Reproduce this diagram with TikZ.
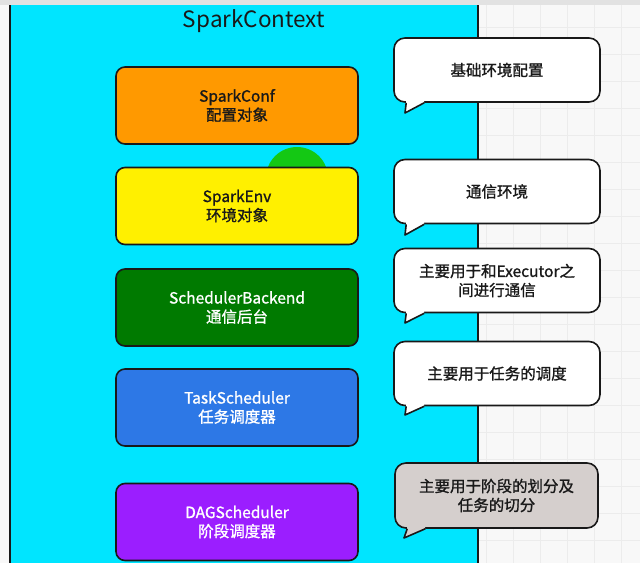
\documentclass[tikz,border=0pt]{standalone}
\usepackage{fontspec}
\newfontfamily\cjk{Noto Sans CJK SC}
\newfontfamily\cjkm[FakeBold=1.2]{Noto Sans CJK SC}
\definecolor{ctxcyan}{RGB}{0,229,255}
\definecolor{confcol}{RGB}{255,153,0}
\definecolor{envcol}{RGB}{255,240,0}
\definecolor{backcol}{RGB}{0,122,0}
\definecolor{taskcol}{RGB}{45,120,230}
\definecolor{dagcol}{RGB}{155,30,255}
\definecolor{notegray}{RGB}{213,207,205}
\definecolor{clickgreen}{RGB}{20,200,20}
\definecolor{pagegray}{RGB}{248,248,248}
\definecolor{gridgray}{RGB}{236,236,236}
\definecolor{bargray}{RGB}{226,226,226}
\definecolor{inkcol}{RGB}{25,25,25}
\begin{document}
\begin{tikzpicture}[x=1pt,y=-1pt]
        \tikzstyle{box}=[draw=inkcol, rounded corners=9pt, line width=1.6pt,
            minimum width=242pt, minimum height=77pt, align=center,
            font=\cjkm\fontsize{15.5}{19}\selectfont]
        \tikzstyle{bubble}=[draw=inkcol, fill=white, rounded corners=11pt,
            line width=1.6pt, minimum width=206pt, minimum height=64pt,
            align=center, text=inkcol, font=\cjkm\fontsize{15.5}{19}\selectfont]
        \tikzstyle{tail}=[draw=inkcol, line width=1.6pt, line join=round]
        \useasboundingbox (0,0) rectangle (640,563);

        % page and context area
        \fill[pagegray] (0,0) rectangle (640,563);
        \draw[gridgray, step=27pt] (479,5) grid (640,563);
        \fill[bargray] (0,0) rectangle (640,5);
        \fill[ctxcyan] (10,5) rectangle (478,563);
        \draw[inkcol, line width=2pt] (10,5) -- (10,563);
        \draw[inkcol, line width=1.8pt] (478,5) -- (478,563);
        \node[font=\cjk\fontsize{22.5}{26}\selectfont, text=inkcol] (ctx) at (254,21) {SparkContext};
        \fill[clickgreen] (297,178) circle (31pt);

        % components
        \node[box, fill=confcol, text=inkcol] (conf) at (237,105.5) {SparkConf\\配置对象};
        \node[box, fill=envcol, text=inkcol] (env) at (237,206) {SparkEnv\\环境对象};
        \node[box, fill=backcol, text=white] (backend) at (237,307.5) {SchedulerBackend\\通信后台};
        \node[box, fill=taskcol, text=white] (task) at (237,407.5) {TaskScheduler\\任务调度器};
        \node[box, fill=dagcol, text=white] (dag) at (237,522) {DAGScheduler\\阶段调度器};

        % notes
        \node[bubble] (n1) at (497,70) {基础环境配置};
        \coordinate (t1) at (405,113);
        \fill[white] ([xshift=13pt]n1.south west) -- ++(0,-4) -- ++(18,0) -- ++(0,4) -- (t1) -- cycle;
        \draw[tail] ([xshift=13pt]n1.south west) -- (t1) -- ([xshift=31pt]n1.south west);

        \node[bubble] (n2) at (497,191.5) {通信环境};
        \coordinate (t2) at (405,235);
        \fill[white] ([xshift=13pt]n2.south west) -- ++(0,-4) -- ++(18,0) -- ++(0,4) -- (t2) -- cycle;
        \draw[tail] ([xshift=13pt]n2.south west) -- (t2) -- ([xshift=31pt]n2.south west);

        \node[bubble] (n3) at (497,280.5) {主要用于和Executor之\\间进行通信};
        \coordinate (t3) at (405,323);
        \fill[white] ([xshift=13pt]n3.south west) -- ++(0,-4) -- ++(18,0) -- ++(0,4) -- (t3) -- cycle;
        \draw[tail] ([xshift=13pt]n3.south west) -- (t3) -- ([xshift=31pt]n3.south west);

        \node[bubble] (n4) at (497,373.5) {主要用于任务的调度};
        \coordinate (t4) at (405,415);
        \fill[white] ([xshift=13pt]n4.south west) -- ++(0,-4) -- ++(18,0) -- ++(0,4) -- (t4) -- cycle;
        \draw[tail] ([xshift=13pt]n4.south west) -- (t4) -- ([xshift=31pt]n4.south west);

        \node[bubble, fill=notegray, minimum height=65pt, minimum width=203pt] (n5) at (496.5,495.5) {主要用于阶段的划分及\\任务的切分};
        \coordinate (t5) at (404,538);
        \fill[notegray] ([xshift=13pt]n5.south west) -- ++(0,-4) -- ++(18,0) -- ++(0,4) -- (t5) -- cycle;
        \draw[tail] ([xshift=13pt]n5.south west) -- (t5) -- ([xshift=31pt]n5.south west);

    \end{tikzpicture}
\end{document}
